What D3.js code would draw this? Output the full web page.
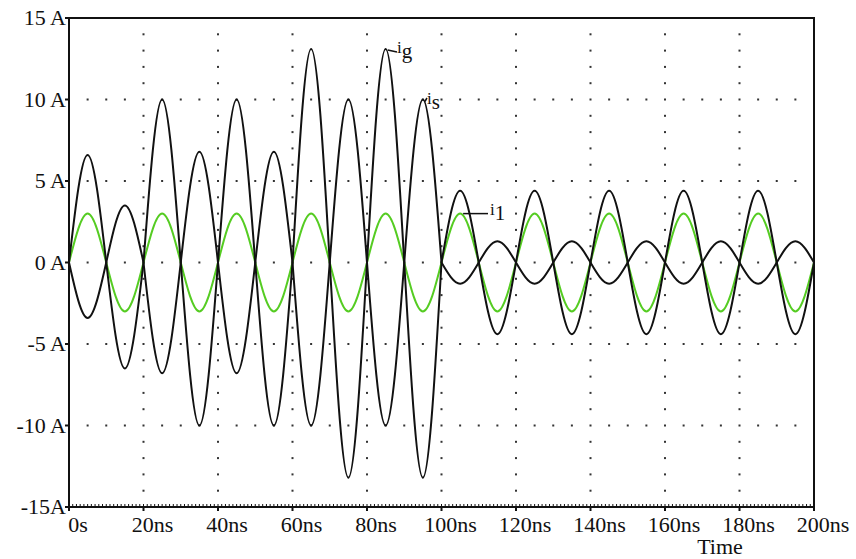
<!DOCTYPE html>
<html>
<head>
<meta charset="utf-8">
<script src="https://cdn.jsdelivr.net/npm/d3@7"></script>
<style>
  body { margin: 0; background: #fff; }
  text { font-family: "Liberation Serif", "DejaVu Serif", serif; fill: #111; }
</style>
</head>
<body>
<svg width="856" height="559"></svg>
<script>
// sample times (ns): zero crossings and peaks
var time = [0,5,10,15,20,25,30,35,40,45,50,55,60,65,70,75,80,85,90,95,100,
            105,110,115,120,125,130,135,140,145,150,155,160,165,170,175,180,185,190,195,200];

var ig = [0,6.6,0,-6.5,0,10,0,-10,0,10,0,-10,0,13.1,0,-13.2,0,13.1,0,-13.2,0,
          4.4,0,-4.4,0,4.4,0,-4.4,0,4.4,0,-4.4,0,4.4,0,-4.4,0,4.4,0,-4.4,0];

var is = [0,-3.4,0,3.5,0,-6.8,0,6.8,0,-6.8,0,6.8,0,-10,0,10,0,-10,0,10,0,
          -1.3,0,1.3,0,-1.3,0,1.3,0,-1.3,0,1.3,0,-1.3,0,1.3,0,-1.3,0,1.3,0];

var i1 = [0,3,0,-3,0,3,0,-3,0,3,0,-3,0,3,0,-3,0,3,0,-3,0,
          3,0,-3,0,3,0,-3,0,3,0,-3,0,3,0,-3,0,3,0,-3,0];

var xTicks = [0,20,40,60,80,100,120,140,160,180,200];
var xLabels = ["0s","20ns","40ns","60ns","80ns","100ns","120ns","140ns","160ns","180ns","200ns"];
var yTicks = [15,10,5,0,-5,-10,-15];
var yLabels = ["15 A","10 A","5 A","0 A","-5 A","-10 A","-15A"];

var svg = d3.select("svg");

var x = d3.scaleLinear().domain([0, 200]).range([69, 814]);
var y = d3.scaleLinear().domain([-15, 15]).range([507, 18]);

// dotted grid
var grid = svg.append("g").attr("fill", "#333");
var vDots = [];
xTicks.slice(1, -1).forEach(function(t) {
  d3.range(-14, 15).forEach(function(v) { vDots.push([t, v]); });
});
[10, 5, 0, -5, -10].forEach(function(v) {
  d3.range(5, 200, 5).forEach(function(t) { if (t % 20 != 0) vDots.push([t, v]); });
});
grid.selectAll("rect").data(vDots).enter().append("rect")
  .attr("x", function(d) { return x(d[0]) - 1; })
  .attr("y", function(d) { return y(d[1]) - 1; })
  .attr("width", 2).attr("height", 2);

// curves: one spline per half cycle (zero - peak - zero)
var seg = d3.line()
  .x(function(d) { return x(d[0]); })
  .y(function(d) { return y(d[1]); })
  .curve(d3.curveNatural);

function wave(vals) {
  var p = "";
  for (var i = 0; i + 2 < time.length; i += 2) {
    var pts = [[time[i], vals[i]], [time[i+1], vals[i+1]], [time[i+2], vals[i+2]]];
    var s = seg(pts);
    p += (i == 0) ? s : "L" + s.slice(1);
  }
  return p;
}

svg.append("path").attr("d", wave(i1))
  .attr("fill", "none").attr("stroke", "#55cc22").attr("stroke-width", 2);
svg.append("path").attr("d", wave(ig))
  .attr("fill", "none").attr("stroke", "#111").attr("stroke-width", 2);
svg.append("path").attr("d", wave(is))
  .attr("fill", "none").attr("stroke", "#111").attr("stroke-width", 2);

// frame
svg.append("rect")
  .attr("x", x(0)).attr("y", y(15))
  .attr("width", x(200) - x(0)).attr("height", y(-15) - y(15))
  .attr("fill", "none").attr("stroke", "#111").attr("stroke-width", 2);

// bottom minor ticks
svg.append("g").selectAll("line").data(d3.range(0, 201, 1)).enter().append("line")
  .attr("x1", function(d) { return x(d); }).attr("x2", function(d) { return x(d); })
  .attr("y1", y(-15)).attr("y2", y(-15) - 3)
  .attr("stroke", "#111").attr("stroke-width", 1);

// y axis ticks + labels
var yg = svg.append("g");
yg.selectAll("line").data(yTicks).enter().append("line")
  .attr("x1", x(0) - 4).attr("x2", x(0))
  .attr("y1", function(d) { return y(d); }).attr("y2", function(d) { return y(d); })
  .attr("stroke", "#111").attr("stroke-width", 2);
yg.selectAll("text").data(yTicks).enter().append("text")
  .attr("x", 66)
  .attr("y", function(d) { return y(d) + 7; })
  .attr("text-anchor", "end")
  .attr("font-size", 22)
  .text(function(d, i) { return yLabels[i]; });

// x axis labels
var xg = svg.append("g");
xg.selectAll("line").data(xTicks).enter().append("line")
  .attr("x1", function(d) { return x(d); }).attr("x2", function(d) { return x(d); })
  .attr("y1", y(-15)).attr("y2", y(-15) + 4)
  .attr("stroke", "#111").attr("stroke-width", 2);
xg.selectAll("text").data(xTicks).enter().append("text")
  .attr("x", function(d) { return x(d) + 9; })
  .attr("y", 532)
  .attr("text-anchor", "middle")
  .attr("font-size", 22)
  .text(function(d, i) { return xLabels[i]; });

svg.append("text").attr("x", 720).attr("y", 554)
  .attr("text-anchor", "middle").attr("font-size", 22).text("Time");

// curve labels
function curveLabel(tx, ty, sub, lx1, ly1, lx2, ly2) {
  svg.append("line")
    .attr("x1", lx1).attr("y1", ly1).attr("x2", lx2).attr("y2", ly2)
    .attr("stroke", "#111").attr("stroke-width", 1.5);
  var t = svg.append("text").attr("x", tx).attr("y", ty).attr("font-size", 17);
  t.append("tspan").text("i");
  t.append("tspan").attr("dy", 5).attr("font-size", 21).text(sub);
}
curveLabel(397, 53, "g", x(85) + 2, y(13.1) + 1, 397, 52);
curveLabel(427, 104, "s", x(95) + 2, y(10) + 2, 427, 98);
curveLabel(490, 215, "1", x(105) + 3, y(3), 488, y(3));
</script>
</body>
</html>
